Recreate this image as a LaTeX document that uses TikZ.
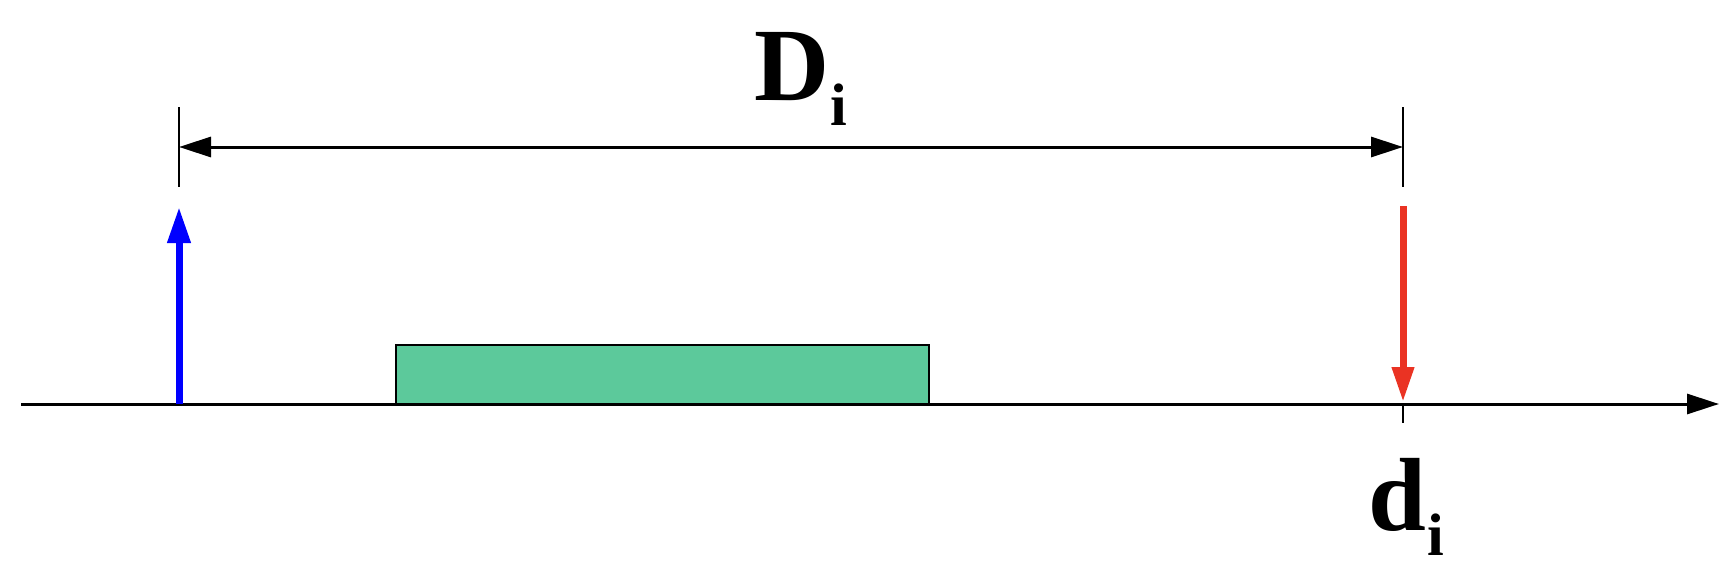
\documentclass[tikz,border=0pt]{standalone}
\usepackage{fontspec}
\setmainfont{Liberation Serif}
\usetikzlibrary{arrows.meta}
\definecolor{boxgreen}{RGB}{92,201,155}
\definecolor{arrred}{RGB}{234,51,35}
\definecolor{arrblue}{RGB}{0,0,255}
\begin{document}
\begin{tikzpicture}[x=1pt,y=-1pt,
  axisline/.style={line width=3pt},
  tickline/.style={line width=2pt},
  dimline/.style={line width=3pt,{Triangle[length=32pt,width=20pt]}-{Triangle[length=32pt,width=20pt]}},
  bluearrow/.style={line width=7pt,arrblue,-{Triangle[length=36pt,width=22pt]}},
  redarrow/.style={line width=7pt,arrred,-{Triangle[length=35pt,width=21pt]}},
  lbl/.style={inner sep=0pt,outer sep=0pt,anchor=base west,font=\fontsize{104}{104}\selectfont\bfseries},
  sub/.style={}
]
\useasboundingbox (0,0) rectangle (1734,578);
% axis
\coordinate (axL) at (21,404);
\coordinate (axR) at (1719,404);
\draw[axisline,-{Triangle[length=32pt,width=20pt]}] (axL) -- (axR);
% box
\node[draw,line width=2pt,fill=boxgreen,minimum width=533pt,minimum height=59pt,inner sep=0pt,outer sep=0pt,anchor=north west] (box) at (396,345) {};
% dimension ticks
\coordinate (t1a) at (179,107);
\coordinate (t1b) at (179,187);
\coordinate (t2a) at (1403,107);
\coordinate (t2b) at (1403,187);
\draw[tickline] (t1a) -- (t1b);
\draw[tickline] (t2a) -- (t2b);
\coordinate (d1) at (179,147);
\coordinate (d2) at (1403,147);
\draw[dimline] (d1) -- (d2);
% blue arrow
\coordinate (b0) at (179,404);
\coordinate (b1) at (179,207);
\draw[bluearrow] (b0) -- (b1);
% red arrow
\coordinate (r0) at (1403,206);
\coordinate (r1) at (1403,402);
\draw[redarrow] (r0) -- (r1);
% tick under axis
\coordinate (k0) at (1403,404);
\coordinate (k1) at (1403,423);
\draw[tickline] (k0) -- (k1);
% labels
\node[lbl] (Dlab) at (754,100.7) {D\kern1pt\raisebox{-25pt}{\fontsize{60}{60}\selectfont i}};
\node[lbl] (dlab) at (1368,530.7) {d\kern2pt\raisebox{-25pt}{\fontsize{60}{60}\selectfont i}};
\end{tikzpicture}
\end{document}
